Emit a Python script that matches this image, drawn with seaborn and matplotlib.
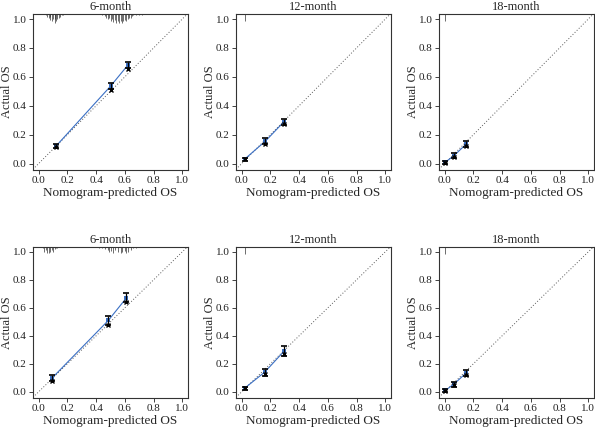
import numpy as np
import pandas as pd
import matplotlib
matplotlib.use("Agg")
import matplotlib.pyplot as plt
import seaborn as sns

# titles for each panel (top row / bottom row)
titles = ["6-month", "12-month", "18-month", "6-month", "12-month", "18-month"]

# nomogram predicted (x), observed (y) and error bars for each panel
pred = [[0.12, 0.50, 0.62], [0.02, 0.165, 0.295], [0.005, 0.065, 0.15],
        [0.095, 0.485, 0.61], [0.02, 0.16, 0.295], [0.005, 0.065, 0.15]]
obs = [[0.12, 0.535, 0.68], [0.03, 0.155, 0.29], [0.01, 0.055, 0.135],
       [0.10, 0.51, 0.67], [0.025, 0.14, 0.29], [0.01, 0.055, 0.135]]
lo = [[0.105, 0.515, 0.66], [0.02, 0.135, 0.27], [0.0, 0.04, 0.115],
      [0.08, 0.475, 0.64], [0.01, 0.115, 0.255], [0.0, 0.035, 0.115]]
hi = [[0.135, 0.555, 0.70], [0.04, 0.175, 0.31], [0.02, 0.07, 0.155],
      [0.12, 0.545, 0.705], [0.035, 0.165, 0.325], [0.02, 0.07, 0.155]]
# bias-corrected estimates
bc = [[0.115, 0.51, 0.655], [0.03, 0.135, 0.275], [0.005, 0.045, 0.12],
      [0.08, 0.48, 0.645], [0.025, 0.125, 0.27], [0.005, 0.045, 0.12]]

# rug (distribution of predictions) along the top: position and length
rug_x = [
    [0.05, 0.06, 0.07, 0.075, 0.08, 0.09, 0.10, 0.11, 0.115, 0.12, 0.13, 0.14, 0.15, 0.16, 0.17,
     0.44, 0.46, 0.47, 0.48, 0.49, 0.50, 0.51, 0.52, 0.53, 0.54, 0.55, 0.56, 0.57, 0.58, 0.59,
     0.60, 0.61, 0.62, 0.63, 0.64, 0.65, 0.66, 0.68, 0.70, 0.72],
    [0.02], [0.005],
    [0.03, 0.04, 0.05, 0.06, 0.07, 0.08, 0.09, 0.10, 0.11, 0.12, 0.13,
     0.42, 0.44, 0.46, 0.48, 0.49, 0.50, 0.52, 0.53, 0.55, 0.57, 0.58, 0.60, 0.61, 0.62, 0.64, 0.66, 0.68],
    [0.02], [0.005],
]
rug_h = [
    [0.01, 0.02, 0.03, 0.02, 0.04, 0.05, 0.035, 0.06, 0.035, 0.05, 0.035, 0.03, 0.02, 0.01, 0.005,
     0.01, 0.015, 0.025, 0.035, 0.03, 0.05, 0.035, 0.055, 0.04, 0.06, 0.045, 0.065, 0.05, 0.06, 0.045,
     0.04, 0.05, 0.035, 0.03, 0.025, 0.015, 0.01, 0.01, 0.005, 0.005],
    [0.05], [0.05],
    [0.01, 0.035, 0.025, 0.045, 0.04, 0.035, 0.025, 0.035, 0.015, 0.01, 0.005,
     0.005, 0.01, 0.015, 0.025, 0.035, 0.03, 0.045, 0.025, 0.035, 0.045, 0.035, 0.03, 0.04, 0.035, 0.02, 0.01, 0.005],
    [0.05], [0.05],
]

ticks = [0.0, 0.2, 0.4, 0.6, 0.8, 1.0]

sns.set_style("ticks")
plt.rcParams['font.family'] = ['Liberation Serif', 'DejaVu Serif']
plt.rcParams['font.size'] = 9

fig = plt.figure(figsize=(5.95, 4.29), dpi=100)
lefts = [33, 236, 439]
rows = [(14, 170), (247, 398)]

for i in range(6):
    r, c = divmod(i, 3)
    top, bot = rows[r]
    ax = fig.add_axes([lefts[c] / 595, 1 - bot / 429, 155 / 595, (bot - top) / 429])
    ax.set_xlim(-0.04, 1.04)
    ax.set_ylim(-0.045, 1.035)
    # ideal line
    ax.plot([-0.04, 1.04], [-0.04, 1.04], color="0.35", lw=0.7, ls=(0, (1, 2)))
    df = pd.DataFrame({"pred": pred[i], "obs": obs[i]})
    sns.lineplot(data=df, x="pred", y="obs", ax=ax, color="#3a6fc4", lw=0.8,
                 marker="s", markersize=3, markeredgewidth=0, sort=True)
    yerr = [np.array(obs[i]) - np.array(lo[i]), np.array(hi[i]) - np.array(obs[i])]
    ax.errorbar(pred[i], obs[i], yerr=yerr, fmt="none", ecolor="black",
                elinewidth=0.9, capsize=2, capthick=1.2)
    ax.plot(pred[i], bc[i], ls="none", marker="x", color="black", markersize=2.5, mew=1)
    # rug of predicted values hanging from the top
    ax.vlines(rug_x[i], 1.035 - np.array(rug_h[i]), 1.035, color="0.2", lw=0.5)
    ax.set_xticks(ticks)
    ax.set_yticks(ticks)
    ax.set_xticklabels([f"{t:.1f}" for t in ticks])
    ax.set_yticklabels([f"{t:.1f}" for t in ticks])
    ax.tick_params(length=3, width=0.6, pad=1.5, labelsize=8, colors="#222222")
    for s in ax.spines.values():
        s.set_linewidth(0.8)
        s.set_color("#333333")
    ax.set_title(titles[i], fontsize=9, pad=3)
    ax.set_xlabel("Nomogram-predicted OS", fontsize=9.5, labelpad=1)
    ax.set_ylabel("Actual OS", fontsize=9)
    ax.yaxis.set_label_coords(-0.13, 0.5)

fig.savefig("out.png", dpi=100)
